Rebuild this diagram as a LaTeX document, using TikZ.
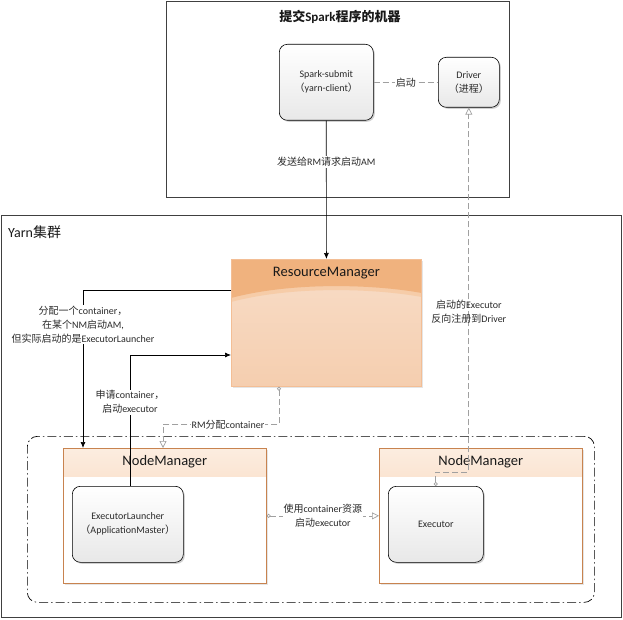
\documentclass[tikz,border=0pt]{standalone}
\usepackage{fontspec}
\setmainfont{Carlito}
\newfontfamily\cjk{Noto Sans CJK SC}
\newcommand\zh[1]{{\cjk #1}}
\usetikzlibrary{arrows.meta,shadows,calc}
\definecolor{rmhead}{HTML}{F0B27E}
\definecolor{rmband}{HTML}{F6CCA8}
\definecolor{rmtop}{HTML}{F8DDC8}
\definecolor{rmbot}{HTML}{F5CEAF}
\definecolor{rmline}{HTML}{F3BE95}
\definecolor{nmtop}{HTML}{FCEDE0}
\definecolor{nmbot}{HTML}{F5C6A0}
\definecolor{nmline}{HTML}{C8834F}
\definecolor{dgray}{HTML}{A0A0A0}
\definecolor{txt}{HTML}{2A2A2A}
\definecolor{framec}{HTML}{404040}
\tikzset{
  lbl/.style={font=\fontsize{10}{14}\selectfont, text=txt, align=center, inner sep=1pt},
  lblw/.style={lbl, fill=white},
  frame/.style={draw=framec, line width=0.6pt, anchor=north west, inner sep=0pt},
  rbox/.style={draw=black, line width=0.6pt, rounded corners=8pt, top color=white, bottom color=black!9,
    drop shadow={shadow xshift=1.5pt, shadow yshift=-1.5pt, opacity=0.3, fill=black!60},
    align=center, font=\fontsize{10}{14}\selectfont, text=txt, anchor=north west, inner sep=0pt},
  nmbox/.style={draw=nmline, line width=0.7pt, fill=white, anchor=north west, inner sep=0pt,
    drop shadow={shadow xshift=1.2pt, shadow yshift=-1.2pt, opacity=0.2, fill=black!50},
    minimum width=203pt, minimum height=135pt,
    path picture={\fill[top color=nmtop, bottom color=nmbot] (path picture bounding box.north west) rectangle ([yshift=-28pt]path picture bounding box.north east);}},
  big/.style={font=\fontsize{14.5}{16}\selectfont, text=black!90, inner sep=0pt},
  blk/.style={draw=black, line width=0.7pt, -{Latex[length=6pt,width=5pt]}},
  gdash/.style={draw=dgray, line width=0.7pt, dash pattern=on 6pt off 3pt},
  gtips/.style={{Circle[open,length=4pt,width=4pt]}-{Triangle[open,length=7pt,width=7pt]}}
}
\begin{document}
\begin{tikzpicture}[x=1pt,y=-1pt]
\useasboundingbox (0,0) rectangle (623,620);
\fill[white] (0,0) rectangle (623,620);

% frames
\node[frame, minimum width=343pt, minimum height=196pt] (machine) at (166,1) {};
\node[font=\bfseries\fontsize{13}{15}\selectfont, text=black!90] (title) at (340,17) {\zh{提交}Spark\zh{程序的机器}};
\node[frame, minimum width=620pt, minimum height=402pt] (yarn) at (1,215) {};
\node[font=\fontsize{14}{16}\selectfont, text=black!90, anchor=west, inner sep=0pt] (yarnlbl) at (8,232) {Yarn\zh{集群}};

% machine contents
\node[rbox, minimum width=94pt, minimum height=76pt] (submit) at (279,44) {Spark-submit\\\zh{（}yarn-client\zh{）}};
\node[rbox, minimum width=61pt, minimum height=50pt] (driver) at (438,57) {Driver\\\zh{（进程）}};

% resource manager
\node[draw=rmline, line width=0.8pt, top color=rmtop, bottom color=rmbot, minimum width=190pt, minimum height=127pt,
  anchor=north west, inner sep=0pt, drop shadow={shadow xshift=2pt, shadow yshift=-2pt, opacity=0.2, fill=black!50}] (rm) at (231,259) {};
\fill[rmband] (rm.north west) -- (rm.north east) -- ($(rm.north east)+(0,38)$)
  .. controls ($(rm.north east)+(-50,29)$) and ($(rm.north west)+(60,27)$) .. ($(rm.north west)+(0,43)$) -- cycle;
\fill[rmhead] (rm.north west) -- (rm.north east) -- ($(rm.north east)+(0,34)$)
  .. controls ($(rm.north east)+(-50,25)$) and ($(rm.north west)+(60,23)$) .. ($(rm.north west)+(0,39)$) -- cycle;
\draw[rmline, line width=0.8pt] (rm.north west) rectangle (rm.south east);
\node[big] (rmlbl) at ([yshift=-14pt]rm.north) {ResourceManager};

% node manager group
\node[draw=black, line width=0.7pt, dash pattern=on 9pt off 3pt on 1.5pt off 3pt, rounded corners=10pt,
  minimum width=567pt, minimum height=166pt, anchor=north west, inner sep=0pt] (grp) at (27,436) {};

\node[nmbox] (nm1) at (63,448) {};
\node[big] (nm1lbl) at ([yshift=-14pt]nm1.north) {NodeManager};
\node[rbox, minimum width=111pt, minimum height=76pt] (el) at (72,486) {ExecutorLauncher\\\zh{（}ApplicationMaster\zh{）}};

\node[nmbox] (nm2) at (379,448) {};
\node[big] (nm2lbl) at ([yshift=-14pt]nm2.north) {NodeManager};
\node[rbox, minimum width=95pt, minimum height=76pt] (exec) at (388,486) {Executor};

% connectors
\draw[gdash] (submit.east) -- node[lblw] (l1) {\zh{启动}} (driver.west);
\draw[blk] (submit.south) -- node[lblw, pos=0.3] (l2) {\zh{发送给}RM\zh{请求启动}AM} (rm.north);
\draw[blk] ([yshift=-31pt]rm.north west) -| node[lblw, pos=0.61] (l3)
  {\zh{分配一个}container\zh{，}\\\zh{在某个}NM\zh{启动}AM,\\\zh{但实际启动的是}ExecutorLauncher} ([xshift=20pt]nm1.north west);
\draw[blk] ([xshift=58pt]el.north west) |- node[lblw, pos=0.32] (l4)
  {\zh{申请}container\zh{，}\\\zh{启动}executor} ([yshift=-96pt]rm.north west);
\draw[gdash, gtips] ([xshift=48pt]rm.south west) -- ++(0,38) -| node[lblw, pos=0.22] (l5)
  {RM\zh{分配}container} ([xshift=100pt]nm1.north west);
\draw[gdash, gtips] (nm1.east) -- node[lblw] (l6) {\zh{使用}container\zh{资源}\\\zh{启动}executor} (nm2.west);
\draw[gdash, gtips] (exec.north) -- ++(0,-14) -| node[lbl, pos=0.72] (l7)
  {\zh{启动的}Executor\\\zh{反向注册到}Driver} (driver.south);
\end{tikzpicture}
\end{document}
